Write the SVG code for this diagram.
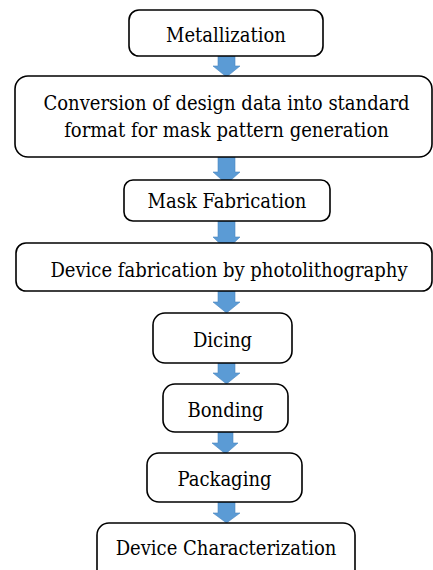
<svg xmlns="http://www.w3.org/2000/svg" width="433" height="570" viewBox="0 0 433 570">
<style>
.box{fill:#fff;stroke:#000;stroke-width:1.6}
.lbl{font-size:20px;fill:#000;text-anchor:middle}
.arr{fill:#5B9BD5;stroke:#4A86C0;stroke-width:0.6}
</style>
<rect width="433" height="570" fill="#fff"/>
<g id="connectors">
<path class="arr" d="M218,56 H235 V66 H240 L226.5,77 L213,66 H218 Z"/>
<path class="arr" d="M218,157 H235 V172 H240 L226.5,184 L213,172 H218 Z"/>
<path class="arr" d="M218,221 H235 V237 H240 L226.5,250 L213,237 H218 Z"/>
<path class="arr" d="M218,291 H235 V302 H240 L226.5,313 L213,302 H218 Z"/>
<path class="arr" d="M218,363 H235 V373 H240 L226.5,384 L213,373 H218 Z"/>
<path class="arr" d="M218,432 H233 V443 H238 L225.5,454 L212,443 H218 Z"/>
<path class="arr" d="M218,502 H235 V513 H240 L226.5,523 L213,513 H218 Z"/>
</g>
<g font-family="DejaVu Serif Condensed, serif">
<g id="n1"><rect class="box" x="129" y="10" width="194" height="46" rx="10"/><text class="lbl" x="226" y="42">Metallization</text></g>
<g id="n2"><rect class="box" x="15" y="76" width="417" height="81" rx="13"/><text class="lbl" x="226.5" y="110">Conversion of design data into standard</text><text class="lbl" x="226.5" y="137">format for mask pattern generation</text></g>
<g id="n3"><rect class="box" x="124" y="180" width="206" height="41" rx="9"/><text class="lbl" x="227" y="208">Mask Fabrication</text></g>
<g id="n4"><rect class="box" x="16" y="243" width="416" height="48" rx="10"/><text class="lbl" x="229" y="277">Device fabrication by photolithography</text></g>
<g id="n5"><rect class="box" x="153" y="313" width="139" height="50" rx="12"/><text class="lbl" x="222.5" y="347">Dicing</text></g>
<g id="n6"><rect class="box" x="163" y="384" width="125" height="48" rx="12"/><text class="lbl" x="225.5" y="417">Bonding</text></g>
<g id="n7"><rect class="box" x="147" y="453" width="155" height="49" rx="12"/><text class="lbl" x="224.5" y="486">Packaging</text></g>
<g id="n8"><rect class="box" x="97" y="523" width="258" height="60" rx="12"/><text class="lbl" x="226" y="555">Device Characterization</text></g>
</g>
</svg>
